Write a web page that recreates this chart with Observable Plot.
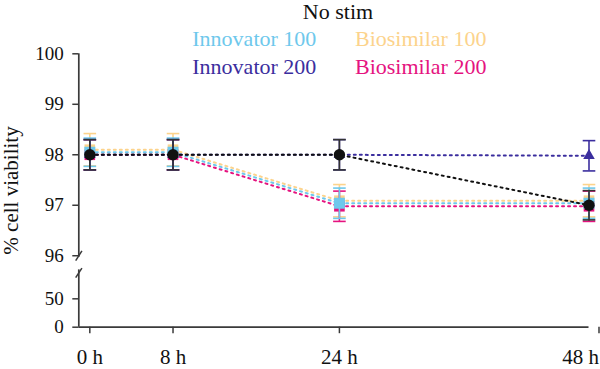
<!DOCTYPE html>
<html>
<head>
<meta charset="utf-8">
<script src="https://cdn.jsdelivr.net/npm/d3@7"></script>
<script src="https://cdn.jsdelivr.net/npm/@observablehq/plot@0.6"></script>
<style>
html, body { margin: 0; padding: 0; background: #fff; }
#wrap { position: relative; width: 600px; height: 369px; font-family: "Liberation Serif", "DejaVu Serif", serif; }
#wrap svg { position: absolute; left: 0; top: 0; }
.lg { position: absolute; white-space: nowrap; line-height: 1; font-size: 22px; }
</style>
</head>
<body>
<div id="wrap"></div>
<script>
// ---- data ----
const hours = [0, 8, 24, 48];
const hourLabels = ["0 h", "8 h", "24 h", "48 h"];
const yTicks = [0, 50, 96, 97, 98, 99, 100];
const title = "No stim";

const seriesNames = ["Biosimilar 100", "Biosimilar 200", "Innovator 100", "Innovator 200", "Medium"];
const biosimilar100 = [98.1, 98.1, 97.09, 97.09];
const biosimilar100Err = [0.32, 0.32, 0.32, 0.32];
const biosimilar200 = [98.0, 98.0, 96.98, 96.98];
const biosimilar200Err = [0.3, 0.3, 0.3, 0.3];
const innovator100 = [98.05, 98.05, 97.04, 97.04];
const innovator100Err = [0.28, 0.28, 0.3, 0.3];
const innovator200 = [98.0, 98.0, 98.0, 97.98];
const innovator200Err = [0.3, 0.3, 0.3, 0.3];
const medium = [98.0, 98.0, 98.0, 97.0];
const mediumErr = [0.3, 0.3, 0.3, 0.29];

const legendRows = [["Innovator 100", "Biosimilar 100"], ["Innovator 200", "Biosimilar 200"]];

// ---- styles ----
const colors = {
  "Biosimilar 100": "#fcd38c",
  "Biosimilar 200": "#e5137f",
  "Innovator 100": "#6ec8ec",
  "Innovator 200": "#3b2e9e",
  "Medium": "#111111"
};
const errColors = {
  "Biosimilar 100": "#fcd38c",
  "Biosimilar 200": "#e5137f",
  "Innovator 100": "#6ec8ec",
  "Innovator 200": "#3b2e9e",
  "Medium": "#333333"
};
const symbols = {
  "Biosimilar 100": ["square", 6.0],
  "Biosimilar 200": ["square", 6.0],
  "Innovator 100": ["square", 6.2],
  "Innovator 200": ["triangle", 4.3],
  "Medium": ["circle", 5.7]
};
const axisColor = "#3a3a3a";

const valuesBySeries = {
  "Biosimilar 100": [biosimilar100, biosimilar100Err],
  "Biosimilar 200": [biosimilar200, biosimilar200Err],
  "Innovator 100": [innovator100, innovator100Err],
  "Innovator 200": [innovator200, innovator200Err],
  "Medium": [medium, mediumErr]
};

const rowsFor = name => hours.map((t, i) => ({
  series: name, t, v: valuesBySeries[name][0][i], e: valuesBySeries[name][1][i]
}));

// custom symbols
const capSymbol = { draw(ctx, size) { const r = Math.sqrt(size / Math.PI); ctx.moveTo(-r, 0); ctx.lineTo(r, 0); } };
const slashSymbol = { draw(ctx, size) { const r = Math.sqrt(size / Math.PI); ctx.moveTo(-0.65 * r, r); ctx.lineTo(0.65 * r, -r); } };

// scales (broken y axis as a piecewise scale)
const xDomain = [-1.06, 48];
const yDomain = [0, 95.66, 100];
const upperAxis = [95.97, 100];
const lowerAxis = [0, 95.72];
const breakMarks = [96.0, 95.66];

const marks = [];
// axis lines
marks.push(Plot.ruleY([0], { stroke: axisColor, strokeWidth: 1.7 }));
marks.push(Plot.ruleX([upperAxis, lowerAxis], { x: () => xDomain[0], y1: d => d[0], y2: d => d[1], stroke: axisColor, strokeWidth: 1.7 }));
marks.push(Plot.dot(breakMarks, { x: () => xDomain[0], y: d => d, symbol: slashSymbol, r: 4.8, fill: "none", stroke: axisColor, strokeWidth: 1.5 }));

for (const name of seriesNames) {
  const rows = rowsFor(name);
  const c = colors[name], ec = errColors[name];
  marks.push(Plot.line(rows, { x: "t", y: "v", stroke: c, strokeWidth: 2, strokeDasharray: "2,4" }));
  marks.push(Plot.ruleX(rows, { x: "t", y1: d => d.v - d.e, y2: d => d.v + d.e, stroke: ec, strokeWidth: 1.6 }));
  marks.push(Plot.dot(rows, { x: "t", y: d => d.v - d.e, symbol: capSymbol, r: 6.3, fill: "none", stroke: ec, strokeWidth: 1.6 }));
  marks.push(Plot.dot(rows, { x: "t", y: d => d.v + d.e, symbol: capSymbol, r: 6.3, fill: "none", stroke: ec, strokeWidth: 1.6 }));
  marks.push(Plot.dot(rows, { x: "t", y: "v", symbol: symbols[name][0], r: symbols[name][1], fill: c, stroke: "none" }));
}

// axes
const fmtHour = d => hourLabels[hours.indexOf(d)];
const xAxisOpts = { tickFormat: fmtHour, tickSize: 6.5, tickPadding: 15, fontSize: 21, label: null, stroke: axisColor, strokeWidth: 1.5, fill: "#111" };
marks.push(Plot.axisX({ ...xAxisOpts, ticks: hours.slice(0, -1) }));
marks.push(Plot.axisX({ ...xAxisOpts, ticks: hours.slice(-1), textAnchor: "end", dx: 10 }));
marks.push(Plot.axisY({ ticks: yTicks, tickSize: 6, tickPadding: 9, fontSize: 19, label: null, stroke: axisColor, strokeWidth: 1.5, fill: "#111" }));
marks.push(Plot.axisY({ ticks: [], tickSize: 0, label: "% cell viability", labelAnchor: "center", labelArrow: "none", fontSize: 21, fill: "#111" }));

const chart = Plot.plot({
  width: 600,
  height: 369,
  marginLeft: 78.3,
  marginRight: 11.5,
  marginTop: 53.3,
  marginBottom: 42.3,
  x: { type: "linear", domain: xDomain, range: [78.3, 588.5] },
  y: { type: "linear", domain: yDomain, range: [326.7, 272.4, 53.3] },
  style: { fontFamily: "Liberation Serif, DejaVu Serif, serif", fontSize: "19px", color: "#111", background: "transparent", overflow: "visible" },
  marks
});

const wrap = document.getElementById("wrap");
wrap.appendChild(chart);

// title and legend (text-only, coloured)
const addText = (txt, left, top, color, center) => {
  const d = document.createElement("div");
  d.className = "lg";
  d.textContent = txt;
  d.style.color = color;
  d.style.top = top + "px";
  if (center) { d.style.left = (left - 100) + "px"; d.style.width = "200px"; d.style.textAlign = "center"; }
  else d.style.left = left + "px";
  wrap.appendChild(d);
};
addText(title, 338, 1, "#111", true);
const colLeft = [192.3, 355];
const rowTop = [28.3, 55.6];
legendRows.forEach((row, r) => row.forEach((name, c) => addText(name, colLeft[c], rowTop[r], colors[name], false)));
</script>
</body>
</html>
